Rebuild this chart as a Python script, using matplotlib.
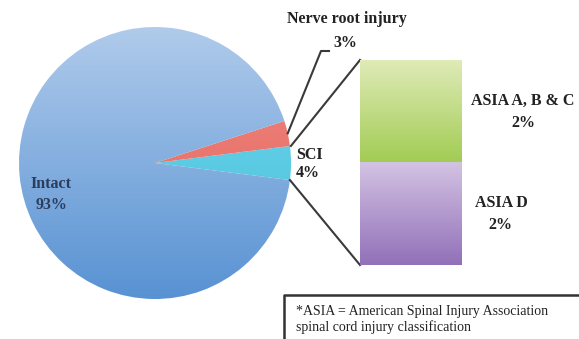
import matplotlib.pyplot as plt
import numpy as np
from matplotlib.colors import LinearSegmentedColormap

# injury breakdown (percent)
pie_labels = ['SCI', 'Nerve root injury', 'Intact']
pie_values = [4, 3, 93]
asia_labels = ['ASIA D', 'ASIA A, B & C']
asia_values = [2, 2]

W, H = 579, 339
fig = plt.figure(figsize=(W / 100, H / 100), dpi=100)
ax = fig.add_axes([0, 0, 1, 1])

def grad(top, bottom):
    return LinearSegmentedColormap.from_list('g', [bottom, top])

pie_grads = [grad('#6fd6ea', '#48c0dd'), grad('#f08a82', '#e2615b'), grad('#b0cbeb', '#5892d3')]

cx, cy, r = 155, H - 163, 136
start = -pie_values[0] * 3.6 / 2
wedges, _ = ax.pie(pie_values, center=(cx, cy), radius=r, startangle=start,
                   colors=['none'] * 3, frame=True)
ax.set_xlim(0, W)
ax.set_ylim(0, H)
ax.set_aspect('auto')
ax.axis('off')

ramp = np.linspace(0, 1, 256).reshape(-1, 1)
for w, cm in zip(wedges, pie_grads):
    im = ax.imshow(ramp, cmap=cm, origin='lower', aspect='auto',
                   extent=(cx - r, cx + r, cy - r, cy + r), zorder=1)
    im.set_clip_path(w)

def edge(angle):
    a = np.radians(angle)
    return cx + r * np.cos(a), cy + r * np.sin(a)

# stacked bar for SCI split
bx0, bx1, by0, by1 = 360, 462, H - 265, H - 60
bax = fig.add_axes([bx0 / W, by0 / H, (bx1 - bx0) / W, (by1 - by0) / H])
bars = bax.bar([0], [asia_values[0]], width=1, color='none')
bars2 = bax.bar([0], [asia_values[1]], bottom=[asia_values[0]], width=1, color='none')
bar_grads = [grad('#d3c3e3', '#9270b9'), grad('#e0ebb8', '#a2cc54')]
for patch, cm in zip([bars[0], bars2[0]], bar_grads):
    x0, y0 = patch.get_x(), patch.get_y()
    bax.imshow(ramp, cmap=cm, origin='lower', aspect='auto', interpolation='bilinear',
               extent=(x0, x0 + patch.get_width(), y0, y0 + patch.get_height()))
bax.set_xlim(-0.5, 0.5)
bax.set_ylim(0, sum(asia_values))
bax.axis('off')

# connector lines from SCI slice to the bar
lc = '#3a3a3a'
p1 = edge(wedges[0].theta2)
p2 = edge(wedges[0].theta1)
ax.plot([p1[0] + 1, bx0], [p1[1], by1], color=lc, lw=1.5)
ax.plot([p2[0], bx0], [p2[1], by0], color=lc, lw=1.5)
pn = edge((wedges[1].theta1 + wedges[1].theta2) / 2)
ax.plot([pn[0], 321, 329], [pn[1], H - 51, H - 51], color=lc, lw=1.5)

font = dict(family='Liberation Serif', weight='bold', color='#222222', fontsize=11.5)
ax.text(347, H - 19, pie_labels[1], ha='center', va='center', **font)
ax.text(345, H - 43, '%d%%' % pie_values[1], ha='center', va='center', **font)
ax.text(296, H - 155, pie_labels[0], ha='left', va='center', **font)
ax.text(296, H - 173, '%d%%' % pie_values[0], ha='left', va='center', **font)
ax.text(51, H - 184, pie_labels[2], ha='center', va='center',
        **{**font, 'color': '#2b3d5e'})
ax.text(52, H - 205, '%d%%' % pie_values[2], ha='center', va='center',
        **{**font, 'color': '#2b3d5e'})
ax.text(523, H - 101, asia_labels[1], ha='center', va='center', **font)
ax.text(523, H - 123, '%d%%' % asia_values[1], ha='center', va='center', **font)
ax.text(501, H - 203, asia_labels[0], ha='center', va='center', **font)
ax.text(500, H - 225, '%d%%' % asia_values[0], ha='center', va='center', **font)

# footnote box
ax.plot([W + 5, 284, 284], [H - 295, H - 295, -5], color='#333333', lw=1.8,
        clip_on=False)
ax.text(296, H - 311, '*ASIA = American Spinal Injury Association',
        ha='left', va='center', family='Liberation Serif', fontsize=10, color='#222222')
ax.text(296, H - 327, 'spinal cord injury classification',
        ha='left', va='center', family='Liberation Serif', fontsize=10, color='#222222')

fig.savefig('out.png', dpi=100)
